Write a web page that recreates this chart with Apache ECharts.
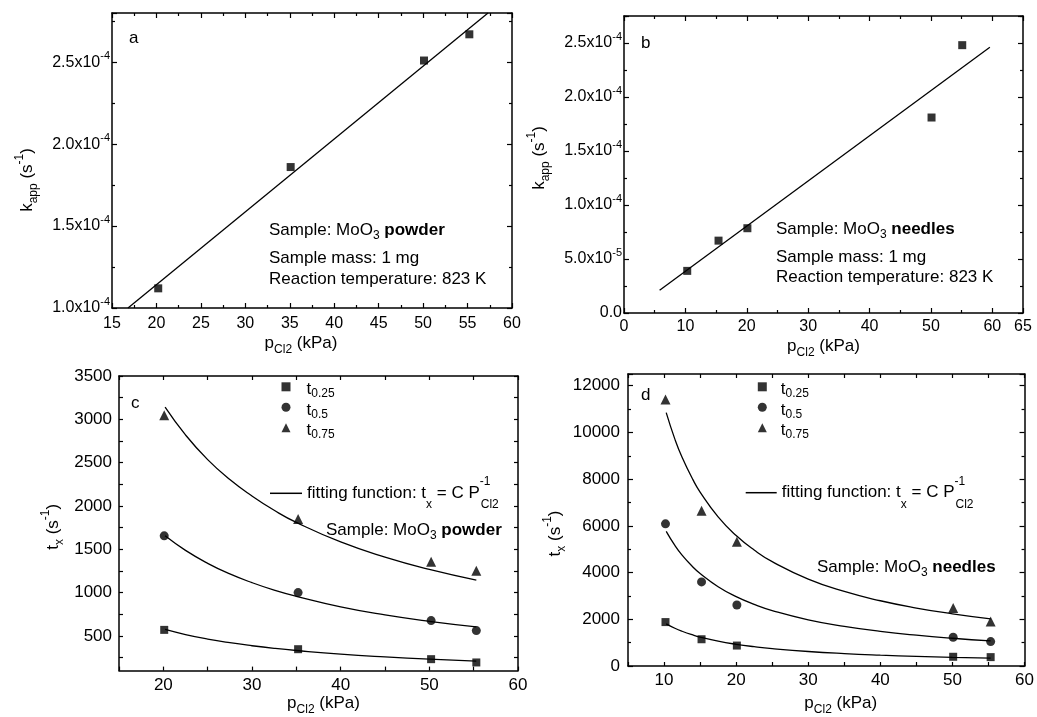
<!DOCTYPE html>
<html>
<head>
<meta charset="utf-8">
<script src="https://cdn.jsdelivr.net/npm/echarts@6/dist/echarts.min.js"></script>
<style>
html, body { margin: 0; padding: 0; background: #fff; }
#chart { width: 1037px; height: 717px; }
</style>
</head>
<body>
<div id="chart"></div>
<script>
// panel a: MoO3 powder, k_app vs p
const pA = [20.2, 35.1, 50.1, 55.2];
const kA = [1.12e-4, 1.86e-4, 2.51e-4, 2.67e-4];
const fitPA = [16.8, 57.3];
const fitKA = [1.0e-4, 2.8e-4];

// panel b: MoO3 needles, k_app vs p
const pB = [10.3, 15.4, 20.1, 50.1, 55.1];
const kB = [3.9e-5, 6.7e-5, 7.85e-5, 1.81e-4, 2.48e-4];
const fitPB = [5.8, 59.6];
const fitKB = [2.1e-5, 2.46e-4];

// panel c: powder, t_x vs p
const pC = [20.1, 35.2, 50.2, 55.3];
const t025C = [570, 347, 232, 194];
const t05C = [1655, 1000, 677, 562];
const t075C = [3047, 1849, 1355, 1251];
const fitPC = [20.2, 22.5, 25, 27.5, 30, 32.5, 35, 40, 45, 50, 55.3];
const fit025C = [575, 516, 464, 422, 387, 357, 332, 290, 258, 232, 210];
const fit05C = [1655, 1487, 1338, 1216, 1115, 1029, 958, 836, 743, 669, 605];
const fit075C = [3140, 2820, 2535, 2305, 2115, 1950, 1810, 1585, 1410, 1268, 1145];

// panel d: needles, t_x vs p
const pD = [10.2, 15.2, 20.1, 50.1, 55.3];
const t025D = [1880, 1145, 875, 395, 380];
const t05D = [6085, 3600, 2610, 1230, 1045];
const t075D = [11410, 6650, 5320, 2485, 1905];
const fitPD = [10.3, 11.5, 12.5, 14, 15, 17.5, 20, 22.5, 25, 30, 35, 40, 45, 50, 55.3];
const fit025D = [1806, 1617, 1488, 1329, 1240, 1063, 930, 827, 744, 620, 531, 465, 413, 372, 336];
const fit05D = [5762, 5161, 4748, 4239, 3957, 3391, 2968, 2638, 2374, 1978, 1696, 1484, 1319, 1187, 1073];
const fit075D = [10845, 9713, 8936, 7979, 7447, 6383, 5585, 4964, 4468, 3723, 3191, 2793, 2482, 2234, 2020];

// tick positions / labels where min is not a multiple of the step
const xLabelsC = [20, 30, 40, 50, 60];
const xTicksC = [15, 20, 25, 30, 35, 40, 45, 50, 55, 60];
const yLabelsC = [500, 1000, 1500, 2000, 2500, 3000, 3500];
const yTicksC = [250, 500, 750, 1000, 1250, 1500, 1750, 2000, 2250, 2500, 2750, 3000, 3250, 3500];
const xLabelsD = [10, 20, 30, 40, 50, 60];
const xTicksD = [5, 10, 15, 20, 25, 30, 35, 40, 45, 50, 55, 60];

const legendNames = ['t0.25', 't0.5', 't0.75'];

const FONT = 'Liberation Sans';
const BLACK = '#000';

function zip(xs, ys) {
    let out = [];
    for (let i = 0; i < xs.length; i++) {
        out.push([xs[i], ys[i]]);
    }
    return out;
}

function sciLabel(v) {
    if (Math.abs(v) < 1e-12) return '{m|0.0}';
    let parts = v.toExponential(1).split('e');
    return '{m|' + parts[0] + 'x10}{e|' + parts[1] + '}';
}
function plainLabel(v) {
    return String(v);
}

const NAME_RICH = {
    b: {fontFamily: FONT, fontSize: 17, lineHeight: 26, color: BLACK},
    s: {fontFamily: FONT, fontSize: 12, lineHeight: 12, verticalAlign: 'bottom', color: BLACK},
    p: {fontFamily: FONT, fontSize: 12, lineHeight: 12, verticalAlign: 'top', color: BLACK}
};
const SCI_RICH = {
    m: {fontFamily: FONT, fontSize: 16, lineHeight: 24, color: BLACK},
    e: {fontFamily: FONT, fontSize: 11, lineHeight: 8, verticalAlign: 'top', color: BLACK}
};

function makeAxis(kind, grid, min, max, cfg) {
    let isX = kind === 'x';
    let build = function (mirror) {
        let ax = {
            type: 'value',
            gridIndex: grid,
            min: min,
            max: max,
            position: isX ? (mirror ? 'top' : 'bottom') : (mirror ? 'right' : 'left'),
            axisLine: {show: true, onZero: false, lineStyle: {color: BLACK, width: 1.5}},
            axisTick: {show: true, inside: true, length: cfg.ticks ? 4 : 5, lineStyle: {color: BLACK, width: 1.2}},
            minorTick: {show: !cfg.ticks, splitNumber: 2, length: 3, lineStyle: {color: BLACK, width: 1.2}},
            splitLine: {show: false},
            axisLabel: {
                show: !mirror, color: BLACK, fontFamily: FONT, fontSize: cfg.fontSize || 16, margin: cfg.margin,
                showMaxLabel: cfg.hideMax ? false : null,
                formatter: cfg.sci ? sciLabel : plainLabel
            }
        };
        if (cfg.interval) ax.interval = cfg.interval;
        if (cfg.ticks) ax.axisTick.customValues = cfg.ticks;
        if (cfg.labels) ax.axisLabel.customValues = cfg.labels;
        if (cfg.sci) ax.axisLabel.rich = SCI_RICH;
        if (!mirror) {
            ax.name = cfg.name;
            ax.nameLocation = 'middle';
            ax.nameGap = cfg.nameGap;
            ax.nameRotate = isX ? 0 : 90;
            ax.nameTextStyle = {color: BLACK, fontFamily: FONT, fontSize: 17, padding: cfg.namePad, rich: NAME_RICH};
        }
        return ax;
    };
    return [build(false), build(true)];
}

const xName = '{b|p}{s|Cl2}{b| (kPa)}';
const kName = '{b|k}{s|app}{b| (s}{p|-1}{b|)}';
const tName = '{b|t}{s|x}{b| (s}{p|-1}{b|)}';

let xAxes = [].concat(
    makeAxis('x', 0, 15, 60, {interval: 5, margin: 8, name: xName, nameGap: 22, namePad: [0, 22, 0, 0]}),
    makeAxis('x', 1, 0, 65, {interval: 10, margin: 6, name: xName, nameGap: 20, namePad: [0, 0, 0, 0]}),
    makeAxis('x', 2, 15, 60, {ticks: xTicksC, labels: xLabelsC, fontSize: 17, margin: 6, name: xName, nameGap: 19, namePad: [0, 0, 0, 10]}),
    makeAxis('x', 3, 5, 60, {ticks: xTicksD, labels: xLabelsD, fontSize: 17, margin: 6, name: xName, nameGap: 24, namePad: [0, 0, 0, 29]})
);
let yAxes = [].concat(
    makeAxis('y', 0, 1.0e-4, 2.8e-4, {interval: 0.5e-4, sci: true, hideMax: true, margin: 2, name: kName, nameGap: 72, namePad: [0, 39, 0, 0]}),
    makeAxis('y', 1, 0, 2.75e-4, {interval: 0.5e-4, sci: true, hideMax: true, margin: 2, name: kName, nameGap: 72, namePad: [0, 0, 0, 13]}),
    makeAxis('y', 2, 100, 3500, {ticks: yTicksC, labels: yLabelsC, fontSize: 17, margin: 7, name: tName, nameGap: 53, namePad: [0, 7, 0, 0]}),
    makeAxis('y', 3, 0, 12500, {interval: 2000, hideMax: true, fontSize: 17, margin: 8, name: tName, nameGap: 60, namePad: [0, 27, 0, 0]})
);

function scatter(name, axisIdx, symbol, size, data) {
    return {
        type: 'scatter', name: name,
        xAxisIndex: axisIdx, yAxisIndex: axisIdx,
        symbol: symbol, symbolSize: size,
        itemStyle: {color: BLACK},
        z: 5,
        data: data
    };
}
function fitLine(name, axisIdx, data) {
    return {
        type: 'line', name: name,
        xAxisIndex: axisIdx, yAxisIndex: axisIdx,
        symbol: 'none', smooth: true,
        lineStyle: {color: BLACK, width: 1.3},
        itemStyle: {color: BLACK},
        z: 3,
        data: data
    };
}

let seriesList = [
    scatter('dataA', 0, 'rect', 8, zip(pA, kA)),
    fitLine('fitA', 0, zip(fitPA, fitKA)),
    scatter('dataB', 2, 'rect', 8, zip(pB, kB)),
    fitLine('fitB', 2, zip(fitPB, fitKB)),
    scatter('t0.25', 4, 'rect', 8, zip(pC, t025C)),
    scatter('t0.5', 4, 'circle', 9, zip(pC, t05C)),
    scatter('t0.75', 4, 'triangle', 10, zip(pC, t075C)),
    fitLine('fit', 4, zip(fitPC, fit025C)),
    fitLine('fit', 4, zip(fitPC, fit05C)),
    fitLine('fit', 4, zip(fitPC, fit075C)),
    scatter('t0.25', 6, 'rect', 8, zip(pD, t025D)),
    scatter('t0.5', 6, 'circle', 9, zip(pD, t05D)),
    scatter('t0.75', 6, 'triangle', 10, zip(pD, t075D)),
    fitLine('fit', 6, zip(fitPD, fit025D)),
    fitLine('fit', 6, zip(fitPD, fit05D)),
    fitLine('fit', 6, zip(fitPD, fit075D))
];

const LEG_RICH = {
    b: {fontFamily: FONT, fontSize: 17, lineHeight: 20, color: BLACK},
    s: {fontFamily: FONT, fontSize: 12, lineHeight: 12, verticalAlign: 'bottom', color: BLACK}
};
const FIT_RICH = {
    b: {fontFamily: FONT, fontSize: 17, lineHeight: 35, color: BLACK},
    s: {fontFamily: FONT, fontSize: 12, lineHeight: 12, verticalAlign: 'bottom', color: BLACK},
    p: {fontFamily: FONT, fontSize: 12, lineHeight: 23, verticalAlign: 'top', width: 1, color: BLACK}
};

function markLegend(left, top, pad) {
    return {
        data: legendNames.map(function (n, i) {
            return {name: n, icon: ['rect', 'circle', 'triangle'][i]};
        }),
        orient: 'vertical', left: left, top: top,
        itemWidth: 9, itemHeight: 9, itemGap: 2,
        selectedMode: false,
        padding: 0,
        formatter: function (n) { return '{b|t}{s|' + n.slice(1) + '}'; },
        textStyle: {padding: [6, 0, 0, pad], rich: LEG_RICH}
    };
}
function fitLegend(left, top, width) {
    return {
        data: [{name: 'fit', icon: 'rect'}],
        left: left, top: top,
        itemWidth: width, itemHeight: 1.5,
        itemStyle: {color: BLACK},
        selectedMode: false,
        padding: 0,
        formatter: function () { return '{b|fitting function: t}{s|x}{b| = C P}{p|-1}{s|Cl2}'; },
        textStyle: {rich: FIT_RICH}
    };
}

const ANN_RICH = {
    b: {fontFamily: FONT, fontSize: 17, lineHeight: 24, fill: BLACK},
    s: {fontFamily: FONT, fontSize: 12, lineHeight: 12, verticalAlign: 'bottom', fill: BLACK},
    bd: {fontFamily: FONT, fontSize: 17, fontWeight: 'bold', lineHeight: 24, fill: BLACK}
};
function txt(x, y, text) {
    return {
        type: 'text', x: x, y: y, z: 10,
        style: {text: text, fontFamily: FONT, fontSize: 17, fill: BLACK, verticalAlign: 'middle', rich: ANN_RICH}
    };
}

let chart = echarts.init(document.getElementById('chart'));
chart.setOption({
    animation: false,
    backgroundColor: '#fff',
    textStyle: {fontFamily: FONT, color: BLACK},
    grid: [
        {left: 112, top: 13, width: 400, height: 295},
        {left: 624, top: 16, width: 399, height: 297},
        {left: 119, top: 376, width: 399, height: 297},
        {left: 628, top: 374, width: 400, height: 295}
    ],
    xAxis: xAxes,
    yAxis: yAxes,
    legend: [
        markLegend(281.5, 381.3, 11),
        fitLegend(270, 475.8, 32),
        markLegend(757.8, 381.3, 9),
        fitLegend(745.7, 475.2, 31)
    ],
    graphic: [
        txt(129, 38, '{b|a}'),
        txt(269, 230, '{b|Sample: MoO}{s|3}{b| }{bd|powder}'),
        txt(269, 258, '{b|Sample mass: 1 mg}'),
        txt(269, 279, '{b|Reaction temperature: 823 K}'),
        txt(641, 43, '{b|b}'),
        txt(776, 229, '{b|Sample: MoO}{s|3}{b| }{bd|needles}'),
        txt(776, 257, '{b|Sample mass: 1 mg}'),
        txt(776, 277, '{b|Reaction temperature: 823 K}'),
        txt(131, 403, '{b|c}'),
        txt(326, 530, '{b|Sample: MoO}{s|3}{b| }{bd|powder}'),
        txt(641, 395, '{b|d}'),
        txt(817, 567, '{b|Sample: MoO}{s|3}{b| }{bd|needles}')
    ],
    series: seriesList
});
</script>
</body>
</html>
